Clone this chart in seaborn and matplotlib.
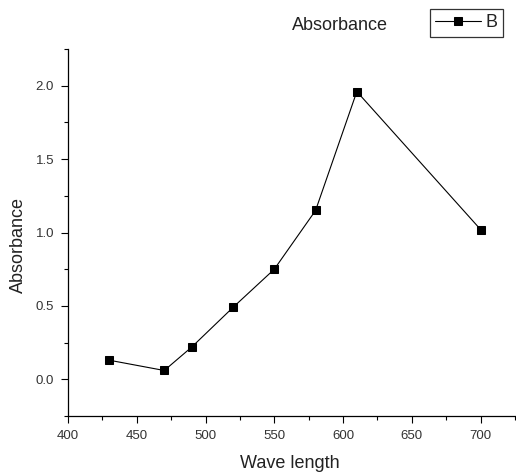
import matplotlib
matplotlib.use("Agg")
import matplotlib.pyplot as plt
import seaborn as sns
import pandas as pd
from matplotlib.ticker import MultipleLocator

wavelength = [430, 470, 490, 520, 550, 580, 610, 700]
absorbance = [0.13, 0.06, 0.22, 0.49, 0.75, 1.15, 1.96, 1.02]
series_name = "B"

sns.set_style("ticks")
plt.rcParams['font.family'] = ['Liberation Sans', 'DejaVu Sans']

df = pd.DataFrame({"Wave length": wavelength, "Absorbance": absorbance})

fig = plt.figure(figsize=(5.16, 4.72), dpi=100)
ax = fig.add_axes([68/516, 56/472, (515-68)/516, (416-49)/472])

sns.lineplot(data=df, x="Wave length", y="Absorbance", ax=ax, color="black",
             linewidth=0.8, marker="s", markersize=6, markeredgecolor="black",
             markerfacecolor="black", label=series_name, legend=False)

ax.set_xlim(400, 725)
ax.set_ylim(-0.25, 2.25)
ax.xaxis.set_major_locator(MultipleLocator(50))
ax.xaxis.set_minor_locator(MultipleLocator(25))
ax.yaxis.set_major_locator(MultipleLocator(0.5))
ax.yaxis.set_minor_locator(MultipleLocator(0.25))
ax.tick_params(which="major", direction="out", length=5, width=0.8, colors="black",
               labelsize=9.5, labelcolor="#333333")
ax.tick_params(axis="y", which="major", pad=5)
ax.tick_params(axis="x", which="major", pad=5)
ax.tick_params(which="minor", direction="out", length=3, width=0.8, colors="black")
for s in ["top", "right"]:
    ax.spines[s].set_visible(False)
for s in ["left", "bottom"]:
    ax.spines[s].set_linewidth(0.9)
    ax.spines[s].set_color("black")

ax.set_xlabel("Wave length", fontsize=13, color="#222222")
ax.set_ylabel("Absorbance", fontsize=13, color="#222222")
ax.xaxis.set_label_coords((290 - 68) / (515 - 68), -(463 - 416) / (416 - 49))
ax.yaxis.set_label_coords(-(68 - 18) / (515 - 68), (416 - 245) / (416 - 49))
ax.xaxis.label.set_va("center")
ax.yaxis.label.set_va("center")

fig.text(340/516, 1 - 25/472, "Absorbance", ha="center", va="center", fontsize=13, color="#222222")

leg = ax.legend(loc="upper left", bbox_to_anchor=(430/516, 1 - 9/472), bbox_transform=fig.transFigure,
                frameon=True, fancybox=False, edgecolor="black", fontsize=13,
                handlelength=2.5, handletextpad=0.3, borderpad=0.3, borderaxespad=0)
leg.get_frame().set_linewidth(0.9)
for t in leg.get_texts():
    t.set_color("#222222")

fig.savefig("out.png", dpi=100)
